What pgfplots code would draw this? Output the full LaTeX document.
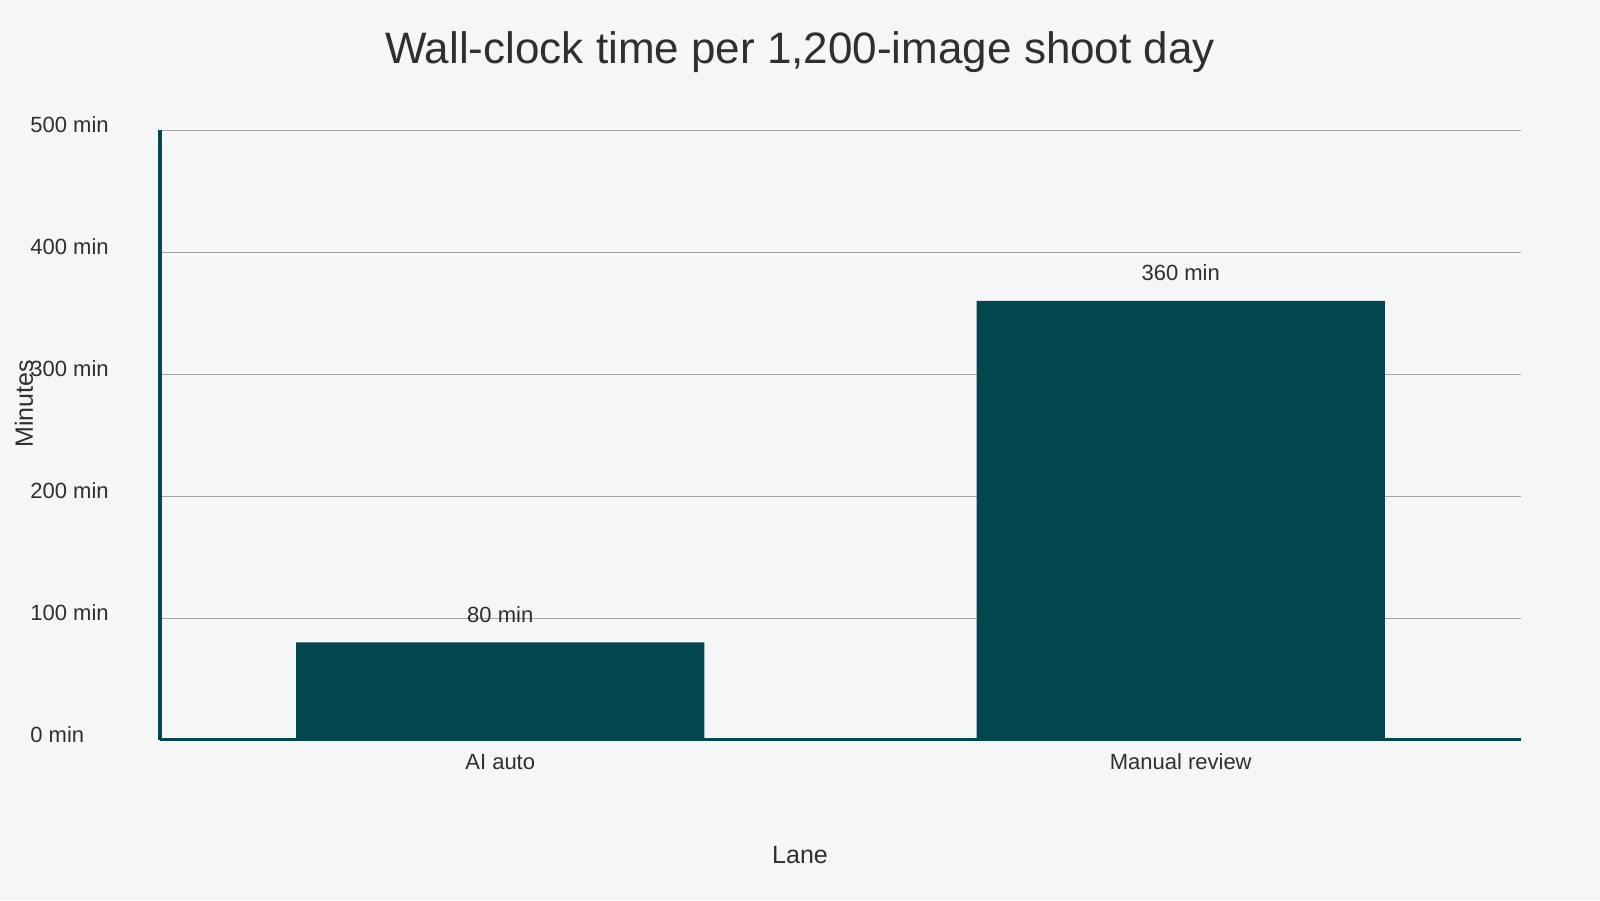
\documentclass[border=0pt]{standalone}
\usepackage{pgfplots}
\pgfplotsset{compat=1.18}
\usepackage{fontspec}
\setmainfont{Liberation Sans}
\definecolor{bg}{HTML}{F4F6F8}
\definecolor{barteal}{HTML}{02474F}
\definecolor{txt}{HTML}{2F2F2F}
\definecolor{gridc}{HTML}{A3A3A3}
\begin{document}
\begin{tikzpicture}[x=1pt,y=1pt]
\useasboundingbox (0,0) rectangle (800,450);
\fill[bg] (0,0) rectangle (800,450);
\begin{axis}[
  at={(80pt,80pt)}, anchor=south west,
  scale only axis, width=680.5pt, height=305pt,
  xmin=-0.5, xmax=1.5, ymin=0, ymax=500,
  axis x line*=bottom, axis y line*=left,
  axis line style={draw=barteal, line width=1.5pt, -},
  major tick length=0pt,
  xtick={0,1}, xticklabels={AI auto, Manual review},
  ytick={0,100,200,300,400,500},
  /pgf/number format/assume math mode=true,
  yticklabel={\pgfmathprintnumber{\tick} min},
  yticklabel style={anchor=west, xshift=-65pt, yshift=2.5pt, inner xsep=0pt, font=\fontsize{11}{13}\selectfont, text=txt},
  xticklabel style={anchor=center, yshift=-11pt, font=\fontsize{11}{13}\selectfont, text=txt},
  ymajorgrids, grid style={draw=gridc, line width=0.5pt},
  ybar, bar width=0.6,
  point meta=y,
  nodes near coords={\pgfmathprintnumber{\pgfplotspointmeta} min},
  nodes near coords style={anchor=center, yshift=14pt, font=\fontsize{11}{13}\selectfont, text=txt},
  clip=false,
]
\addplot[fill=barteal, draw=none] coordinates {(0,80) (1,360)};
\end{axis}
\node[text=txt, font=\fontsize{22}{26}\selectfont] at (400,424) {Wall-clock time per 1,200-image shoot day};
\node[text=txt, font=\fontsize{12.5}{15}\selectfont] at (400,22.5) {Lane};
\node[text=txt, font=\fontsize{12.5}{15}\selectfont, rotate=90] at (12,248) {Minutes};
\end{tikzpicture}
\end{document}
